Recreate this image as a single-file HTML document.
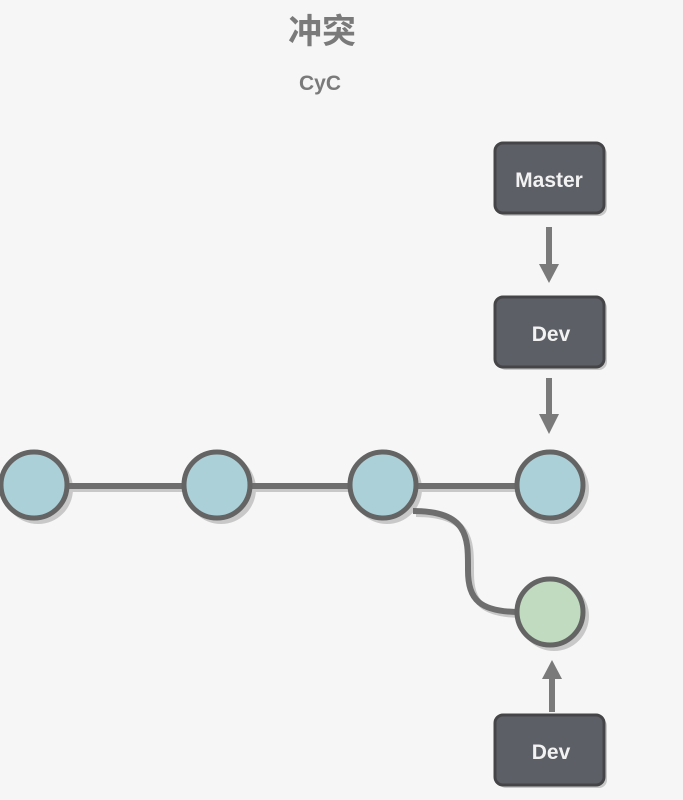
<!DOCTYPE html>
<html><head><meta charset="utf-8"><style>
html,body{margin:0;padding:0;background:#f6f6f6;}
</style></head><body>
<svg width="683" height="800" viewBox="0 0 683 800" xmlns="http://www.w3.org/2000/svg" style="display:block">
<rect width="683" height="800" fill="#f6f6f6"/>
<text x="322" y="43" text-anchor="middle" font-family="'Liberation Sans','Noto Sans CJK SC',sans-serif" font-size="34" font-weight="bold" fill="#7a7a7a">冲突</text>
<text x="320" y="90" text-anchor="middle" font-family="'Liberation Sans',sans-serif" font-size="21" font-weight="bold" fill="#7a7a7a">CyC</text>
<!-- shadows -->
<g fill="#c8c8c8" stroke="none">
<line x1="34" y1="489" x2="550" y2="489" stroke="#c8c8c8" stroke-width="6"/>
<circle cx="38" cy="489" r="35"/><circle cx="221" cy="489" r="35"/><circle cx="387" cy="489" r="35"/><circle cx="554" cy="489" r="35"/><circle cx="554" cy="616" r="35"/>
<rect x="498" y="146" width="109" height="70" rx="8"/><rect x="498" y="300" width="109" height="70" rx="8"/><rect x="498" y="718" width="109" height="70" rx="8"/>
</g>
<path d="M413 511 C470 511 468 540 468 570 C468 600 480 612 520 612" fill="none" stroke="#c8c8c8" stroke-width="6" transform="translate(3,3)"/>
<line x1="34" y1="486" x2="550" y2="486" stroke="#6e6e6e" stroke-width="6"/>
<path d="M413 511 C470 511 468 540 468 570 C468 600 480 612 520 612" fill="none" stroke="#6e6e6e" stroke-width="6"/>
<g stroke="#646464" stroke-width="5" fill="#acd0d7">
<circle cx="34" cy="485" r="33"/><circle cx="217" cy="485" r="33"/><circle cx="383" cy="485" r="33"/><circle cx="550" cy="485" r="33"/>
<circle cx="550" cy="612" r="33" fill="#c0dbbf"/>
</g>
<g stroke="#454548" stroke-width="3" fill="#5d5f66">
<rect x="495" y="143" width="109" height="70" rx="8"/><rect x="495" y="297" width="109" height="70" rx="8"/><rect x="495" y="715" width="109" height="70" rx="8"/>
</g>
<g font-family="'Liberation Sans',sans-serif" font-size="21" font-weight="bold" fill="#f2f2f2" text-anchor="middle">
<text x="549" y="187">Master</text><text x="551" y="341">Dev</text><text x="551" y="759">Dev</text>
</g>
<g fill="#7a7a7a" stroke="#7a7a7a">
<line x1="549" y1="227" x2="549" y2="268" stroke-width="6"/><polygon points="539,264 559,264 549,283" stroke="none"/>
<line x1="549" y1="378" x2="549" y2="418" stroke-width="6"/><polygon points="539,414 559,414 549,434" stroke="none"/>
<line x1="552" y1="712" x2="552" y2="675" stroke-width="6"/><polygon points="542,679 562,679 552,660" stroke="none"/>
</g>
</svg>
</body></html>
